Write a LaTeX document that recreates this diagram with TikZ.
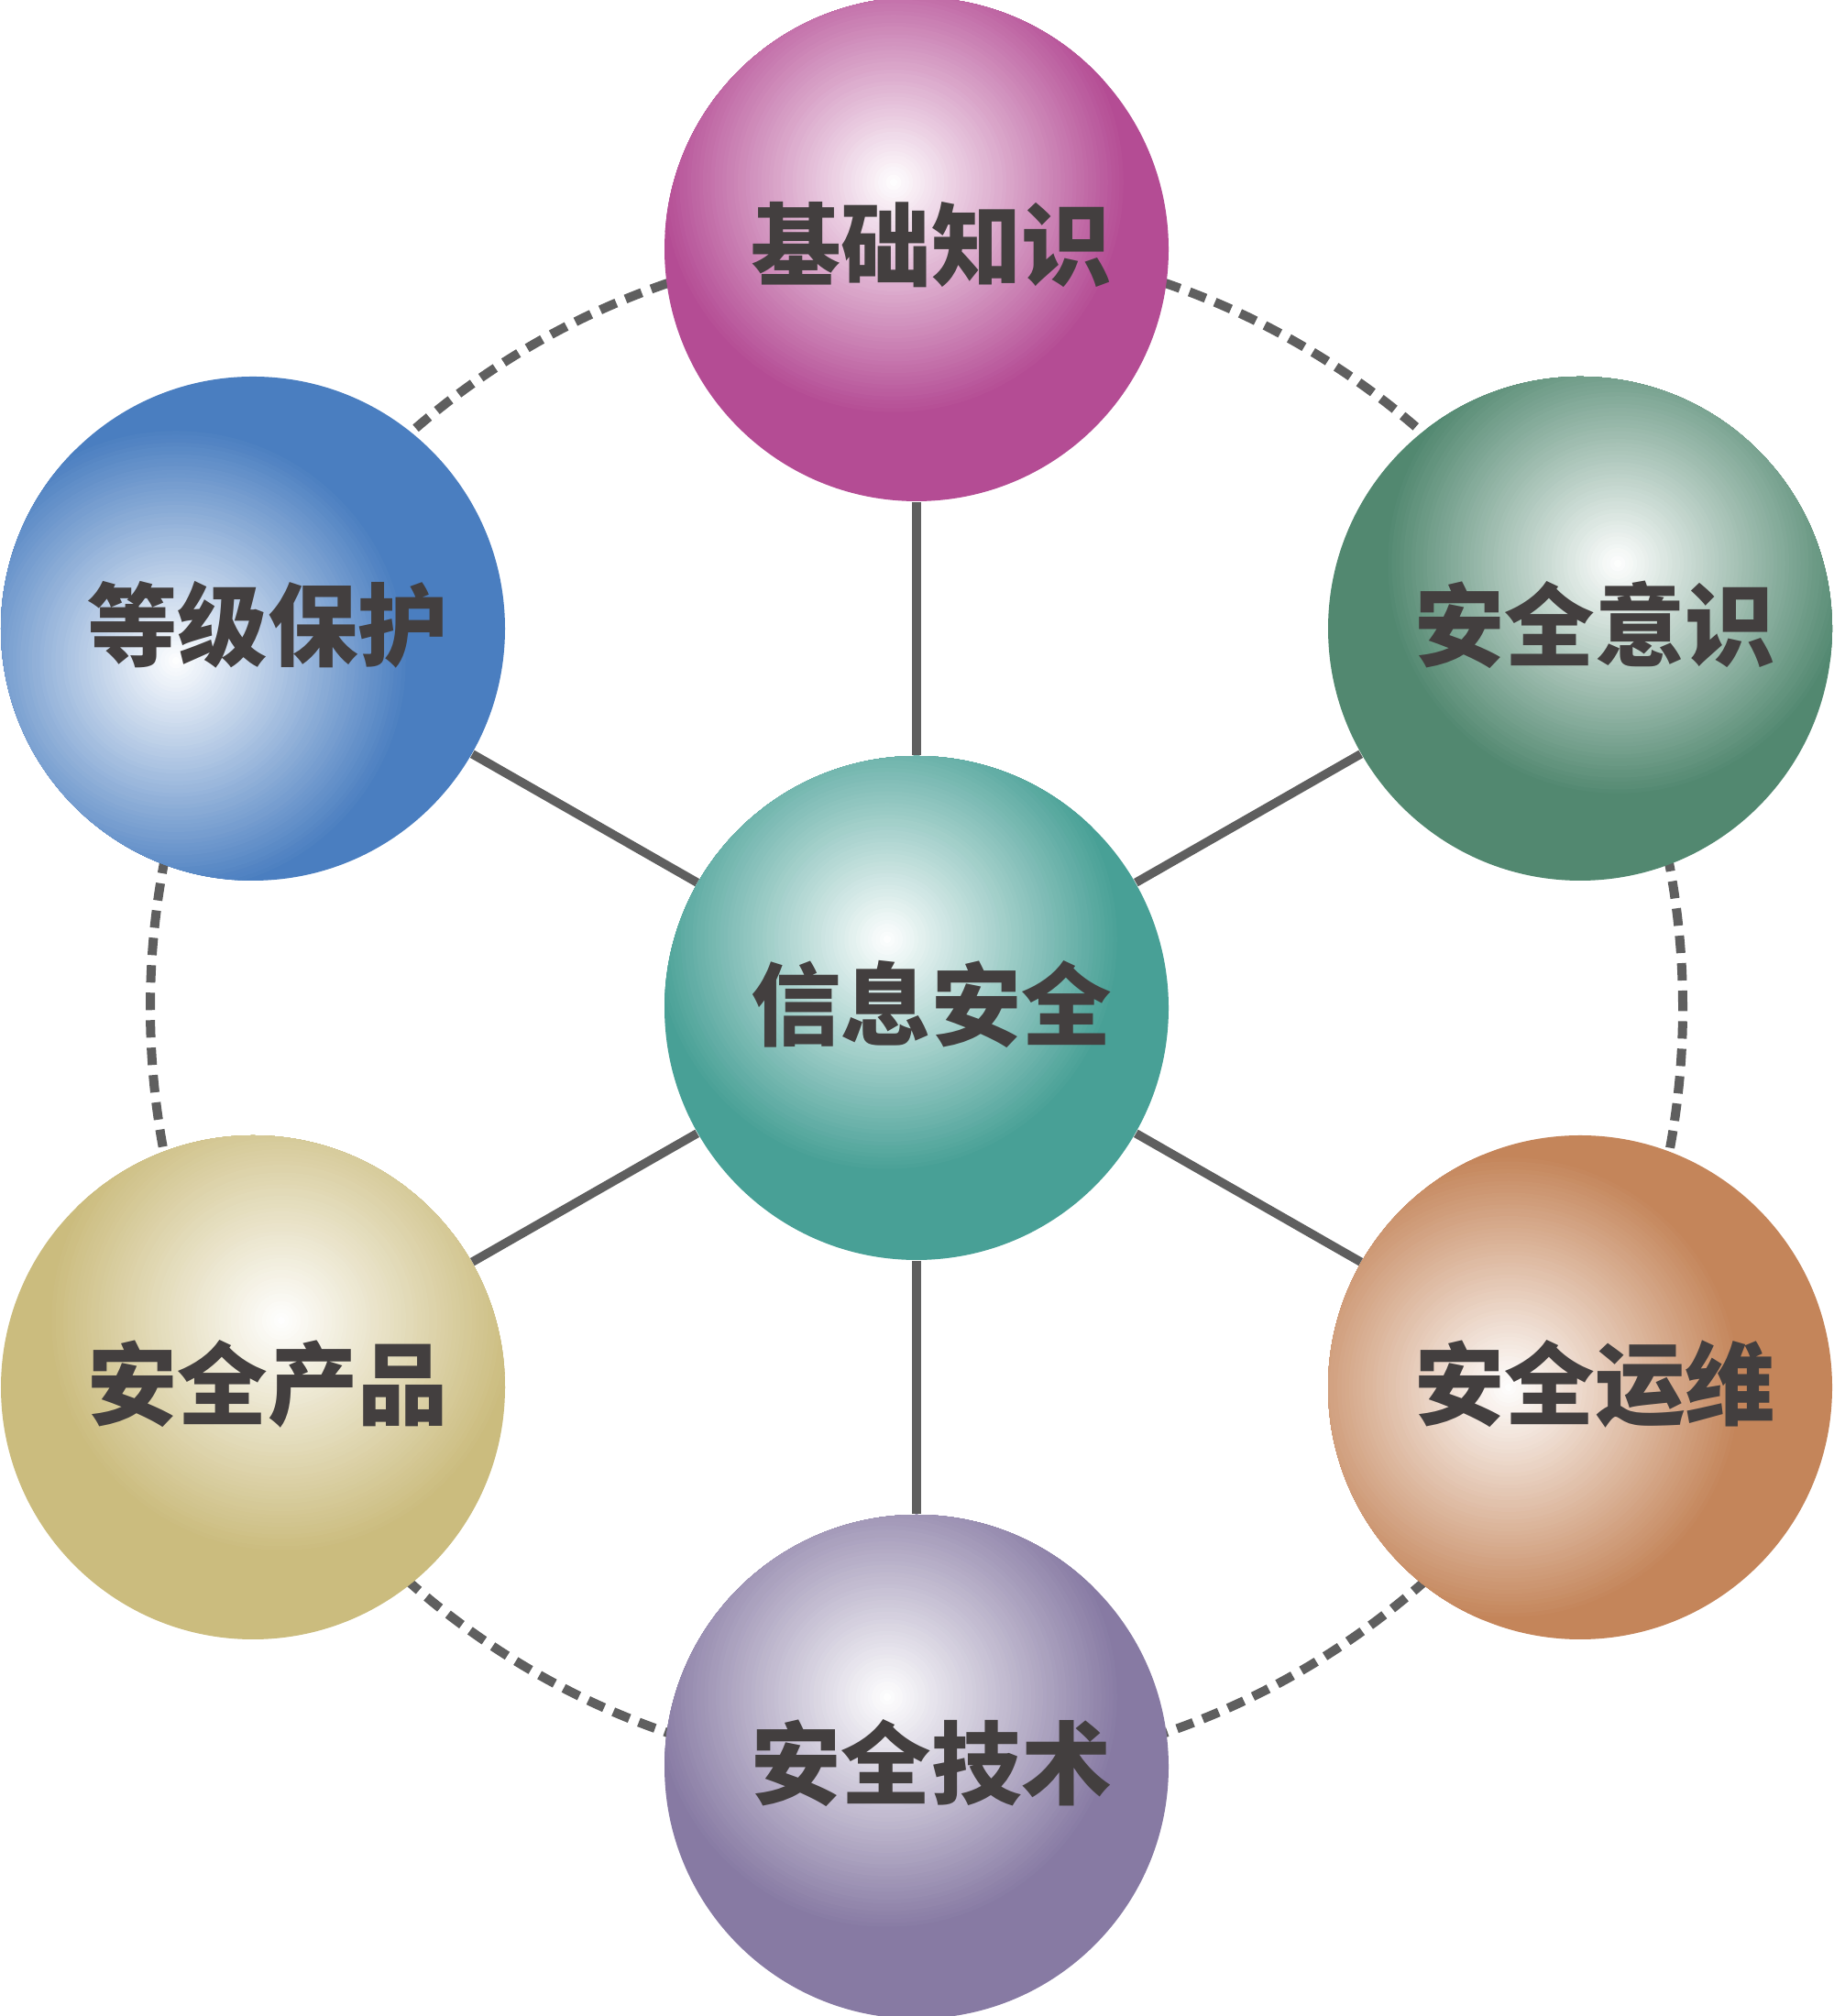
\documentclass[tikz,border=0pt]{standalone}
\usepackage{fontspec}
\newfontfamily\cjk{Noto Sans CJK SC}
\usetikzlibrary{calc}
\pgfdeclarelayer{bg}
\pgfsetlayers{bg,main}
\definecolor{cmag}{HTML}{B44C94}
\definecolor{cblue}{HTML}{4A7EC0}
\definecolor{cgreen}{HTML}{528870}
\definecolor{ckhaki}{HTML}{CBBC7E}
\definecolor{corange}{HTML}{C4855A}
\definecolor{cpurple}{HTML}{877AA3}
\definecolor{cteal}{HTML}{48A096}
\definecolor{txt}{HTML}{433F3F}
\definecolor{linec}{HTML}{5F5F5F}
\tikzset{
  ball/.style n args={3}{circle, minimum size=5.5cm, inner sep=0pt, fill=#1,
    path picture={
      \foreach \k in {0,...,59}{
        \pgfmathtruncatemacro\pp{100-100*\k/60}
        \fill[#1!\pp!white] ($(path picture bounding box.center)+(#2,#3)$)
          circle ({2.55*(1-\k/60)});
      }},
    text=txt, font=\cjk\bfseries\fontsize{28}{30}\selectfont},
  spoke/.style={draw=linec, line width=0.095cm},
  ring/.style={draw=linec, line width=0.1cm, dash pattern=on 0.19cm off 0.11cm}
}
\newcommand{\balltext}[1]{\raisebox{0.19cm}{\hspace*{0.32cm}#1}}
\begin{document}
\begin{tikzpicture}
\useasboundingbox (0,0) rectangle (20,22);
\node[ball={cteal}{-0.32}{0.75}] (c) at (10,11) {\balltext{信息安全}};
\node[ball={cmag}{-0.25}{0.73}] (t) at (10,19.28) {\balltext{基础知识}};
\node[ball={cblue}{-0.84}{-0.35}] (ul) at (2.76,15.14) {\balltext{等级保护}};
\node[ball={cgreen}{0.41}{0.71}] (ur) at (17.24,15.14) {\balltext{安全意识}};
\node[ball={ckhaki}{0.31}{0.73}] (ll) at (2.76,6.86) {\balltext{安全产品}};
\node[ball={corange}{-0.78}{0}] (lr) at (17.24,6.86) {\balltext{安全运维}};
\node[ball={cpurple}{-0.32}{0.76}] (b) at (10,2.72) {\balltext{安全技术}};
\begin{pgfonlayer}{bg}
  \draw[ring] (c.center) circle (8.36);
  \foreach \n in {t,ul,ur,ll,lr,b} \draw[spoke] (c) -- (\n);
\end{pgfonlayer}
\end{tikzpicture}
\end{document}
